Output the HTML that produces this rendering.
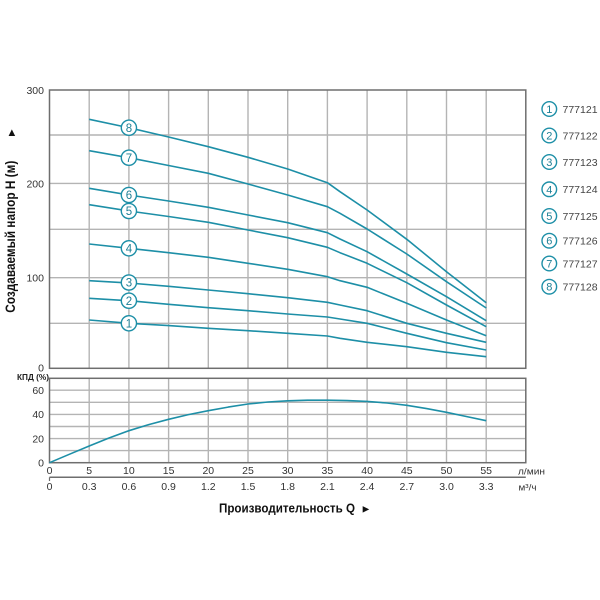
<!DOCTYPE html>
<html>
<head>
<meta charset="utf-8">
<style>
html,body{margin:0;padding:0;background:#fff;}
svg{display:block;}
text{font-family:"Liberation Sans",Arial,sans-serif;}
</style>
</head>
<body>
<svg width="600" height="600" viewBox="0 0 600 600" xmlns="http://www.w3.org/2000/svg">
<rect width="600" height="600" fill="#fff"/>
<!-- top chart grid -->
<g stroke="#b4b4b4" stroke-width="1.4" fill="none">
<line x1="89.2" y1="90" x2="89.2" y2="368.3"/>
<line x1="128.9" y1="90" x2="128.9" y2="368.3"/>
<line x1="168.6" y1="90" x2="168.6" y2="368.3"/>
<line x1="208.3" y1="90" x2="208.3" y2="368.3"/>
<line x1="248" y1="90" x2="248" y2="368.3"/>
<line x1="287.7" y1="90" x2="287.7" y2="368.3"/>
<line x1="327.4" y1="90" x2="327.4" y2="368.3"/>
<line x1="367.1" y1="90" x2="367.1" y2="368.3"/>
<line x1="406.8" y1="90" x2="406.8" y2="368.3"/>
<line x1="446.5" y1="90" x2="446.5" y2="368.3"/>
<line x1="486.2" y1="90" x2="486.2" y2="368.3"/>
<line x1="49.5" y1="135" x2="525.8" y2="135"/>
<line x1="49.5" y1="183.4" x2="525.8" y2="183.4"/>
<line x1="49.5" y1="229.3" x2="525.8" y2="229.3"/>
<line x1="49.5" y1="277.7" x2="525.8" y2="277.7"/>
<line x1="49.5" y1="323.3" x2="525.8" y2="323.3"/>
</g>
<rect x="49.5" y="90" width="476.3" height="278.3" fill="none" stroke="#6e6e6e" stroke-width="1.5"/>

<!-- lower chart grid -->
<g stroke="#b4b4b4" stroke-width="1.4" fill="none">
<line x1="89.2" y1="378.3" x2="89.2" y2="462.7"/>
<line x1="128.9" y1="378.3" x2="128.9" y2="462.7"/>
<line x1="168.6" y1="378.3" x2="168.6" y2="462.7"/>
<line x1="208.3" y1="378.3" x2="208.3" y2="462.7"/>
<line x1="248" y1="378.3" x2="248" y2="462.7"/>
<line x1="287.7" y1="378.3" x2="287.7" y2="462.7"/>
<line x1="327.4" y1="378.3" x2="327.4" y2="462.7"/>
<line x1="367.1" y1="378.3" x2="367.1" y2="462.7"/>
<line x1="406.8" y1="378.3" x2="406.8" y2="462.7"/>
<line x1="446.5" y1="378.3" x2="446.5" y2="462.7"/>
<line x1="486.2" y1="378.3" x2="486.2" y2="462.7"/>
<line x1="49.5" y1="390.2" x2="525.8" y2="390.2"/>
<line x1="49.5" y1="402.3" x2="525.8" y2="402.3"/>
<line x1="49.5" y1="414.4" x2="525.8" y2="414.4"/>
<line x1="49.5" y1="426.5" x2="525.8" y2="426.5"/>
<line x1="49.5" y1="438.6" x2="525.8" y2="438.6"/>
<line x1="49.5" y1="450.6" x2="525.8" y2="450.6"/>
</g>
<rect x="49.5" y="378.3" width="476.3" height="84.4" fill="none" stroke="#6e6e6e" stroke-width="1.5"/>
<!-- secondary axis line -->
<line x1="49.5" y1="477.3" x2="525.8" y2="477.3" stroke="#6e6e6e" stroke-width="1.5"/>
<line x1="49.5" y1="477.3" x2="49.5" y2="481" stroke="#6e6e6e" stroke-width="1.2"/>

<!-- head curves -->
<g stroke="#1d8fa7" stroke-width="1.6" fill="none" stroke-linejoin="round">
<polyline points="89.2,119.3 128.9,127.7 168.6,137 208.3,146.7 248,157.3 287.7,169 327.4,182.7 340,191.7 367.1,210 406.8,239.3 446.5,271.7 486.2,302.7"/>
<polyline points="89.2,150.7 128.9,157.7 168.6,165.5 208.3,173.3 248,184 287.7,195 327.4,206.7 340,213.3 367.1,229 406.8,254 446.5,281.7 486.2,308"/>
<polyline points="89.2,188.3 128.9,195 168.6,201 208.3,207.3 248,215 287.7,222.7 327.4,232.7 340,239 367.1,251.7 406.8,274 446.5,296.7 486.2,320.7"/>
<polyline points="89.2,204.7 128.9,211 168.6,216.5 208.3,222.3 248,230 287.7,237.7 327.4,247.3 340,252.7 367.1,263.3 406.8,282.7 446.5,305 486.2,326.7"/>
<polyline points="89.2,244 128.9,248.3 168.6,252.7 208.3,257.3 248,263.3 287.7,269.3 327.4,276.7 340,280.7 367.1,287.3 406.8,303.3 446.5,320 486.2,335.7"/>
<polyline points="89.2,280.7 128.9,283 168.6,286.3 208.3,290 248,293.7 287.7,297.7 327.4,302.3 340,305 367.1,310.7 406.8,323.3 446.5,333.3 486.2,342.3"/>
<polyline points="89.2,298.3 128.9,300.7 168.6,304.3 208.3,307.7 248,310.7 287.7,314 327.4,317 340,319 367.1,323.3 406.8,333.3 446.5,342.7 486.2,350"/>
<polyline points="89.2,320 128.9,323.3 168.6,325.6 208.3,328.3 248,330.7 287.7,333.3 327.4,336 340,338.3 367.1,342.3 406.8,346.7 446.5,352.3 486.2,356.7"/>
</g>
<!-- efficiency curve -->
<polyline fill="none" stroke="#1d8fa7" stroke-width="1.6" stroke-linejoin="round" points="49.5,462.7 69.3,454.3 89.2,446 109,438 128.9,430.7 148.7,424.6 168.6,419.3 188.4,414.6 208.3,410.7 228.1,407.1 248,404 267.8,402 287.7,400.8 307.5,400.2 327.4,400.2 347.2,400.6 367.1,401.4 387,403 406.8,405.3 426.6,408.6 446.5,412.3 466.3,416.5 486.2,420.7"/>

<!-- curve markers -->
<g fill="#fff" stroke="#1d8fa7" stroke-width="1.4">
<circle cx="128.9" cy="127.7" r="7.6"/>
<circle cx="128.9" cy="157.7" r="7.6"/>
<circle cx="128.9" cy="195" r="7.6"/>
<circle cx="128.9" cy="211" r="7.6"/>
<circle cx="128.9" cy="248.3" r="7.6"/>
<circle cx="128.9" cy="282.5" r="7.6"/>
<circle cx="128.9" cy="300.7" r="7.6"/>
<circle cx="128.9" cy="323.3" r="7.6"/>
</g>
<g fill="#1d7f95" font-size="11.5" text-anchor="middle">
<text x="128.9" y="131.8">8</text>
<text x="128.9" y="161.8">7</text>
<text x="128.9" y="199.1">6</text>
<text x="128.9" y="215.1">5</text>
<text x="128.9" y="252.4">4</text>
<text x="128.9" y="286.6">3</text>
<text x="128.9" y="304.8">2</text>
<text x="128.9" y="327.4">1</text>
</g>

<!-- legend -->
<g fill="#fff" stroke="#1d8fa7" stroke-width="1.4">
<circle cx="549.3" cy="109" r="7.3"/>
<circle cx="549.3" cy="135.5" r="7.3"/>
<circle cx="549.3" cy="162" r="7.3"/>
<circle cx="549.3" cy="189.3" r="7.3"/>
<circle cx="549.3" cy="216" r="7.3"/>
<circle cx="549.3" cy="240.7" r="7.3"/>
<circle cx="549.3" cy="263.5" r="7.3"/>
<circle cx="549.3" cy="286.7" r="7.3"/>
</g>
<g fill="#1d7f95" font-size="11" text-anchor="middle">
<text x="549.3" y="113">1</text>
<text x="549.3" y="139.5">2</text>
<text x="549.3" y="166">3</text>
<text x="549.3" y="193.3">4</text>
<text x="549.3" y="220">5</text>
<text x="549.3" y="244.7">6</text>
<text x="549.3" y="267.5">7</text>
<text x="549.3" y="290.7">8</text>
</g>
<g fill="#444" font-size="10.5">
<text x="562.5" y="112.8">777121</text>
<text x="562.5" y="139.3">777122</text>
<text x="562.5" y="165.8">777123</text>
<text x="562.5" y="193.1">777124</text>
<text x="562.5" y="219.8">777125</text>
<text x="562.5" y="244.5">777126</text>
<text x="562.5" y="267.3">777127</text>
<text x="562.5" y="290.5">777128</text>
</g>

<!-- y tick labels -->
<g fill="#333" font-size="10.5" text-anchor="end">
<text x="44" y="94">300</text>
<text x="44" y="187.5">200</text>
<text x="44" y="281.5">100</text>
<text x="44" y="371.5">0</text>
<text x="44" y="394">60</text>
<text x="44" y="418">40</text>
<text x="44" y="442.5">20</text>
<text x="44" y="466.5">0</text>
</g>
<text x="17" y="380" font-size="8.5" font-weight="bold" fill="#222" textLength="32" lengthAdjust="spacingAndGlyphs">КПД (%)</text>

<!-- x tick labels -->
<g fill="#333" font-size="10.5" text-anchor="middle">
<text x="49.5" y="474">0</text>
<text x="89.2" y="474">5</text>
<text x="128.9" y="474">10</text>
<text x="168.6" y="474">15</text>
<text x="208.3" y="474">20</text>
<text x="248" y="474">25</text>
<text x="287.7" y="474">30</text>
<text x="327.4" y="474">35</text>
<text x="367.1" y="474">40</text>
<text x="406.8" y="474">45</text>
<text x="446.5" y="474">50</text>
<text x="486.2" y="474">55</text>
<text x="49.5" y="490">0</text>
<text x="89.2" y="490">0.3</text>
<text x="128.9" y="490">0.6</text>
<text x="168.6" y="490">0.9</text>
<text x="208.3" y="490">1.2</text>
<text x="248" y="490">1.5</text>
<text x="287.7" y="490">1.8</text>
<text x="327.4" y="490">2.1</text>
<text x="367.1" y="490">2.4</text>
<text x="406.8" y="490">2.7</text>
<text x="446.5" y="490">3.0</text>
<text x="486.2" y="490">3.3</text>
</g>
<text x="518" y="474.5" font-size="9.5" fill="#333" textLength="27" lengthAdjust="spacingAndGlyphs">л/мин</text>
<text x="518.5" y="490.5" font-size="9.5" fill="#333" textLength="18" lengthAdjust="spacingAndGlyphs">м³/ч</text>

<!-- axis titles -->
<text x="219" y="512.5" font-size="13" font-weight="bold" fill="#111" textLength="136" lengthAdjust="spacingAndGlyphs">Производительность Q</text>
<text x="366" y="512.5" font-size="11" fill="#111" text-anchor="middle">►</text>
<g transform="translate(15,312.7) rotate(-90)">
<text x="0" y="0" font-size="14" font-weight="bold" fill="#111" textLength="152" lengthAdjust="spacingAndGlyphs">Создаваемый напор H (м)</text>
<text x="180" y="0" font-size="11" fill="#111" text-anchor="middle">►</text>
</g>
</svg>
</body>
</html>
